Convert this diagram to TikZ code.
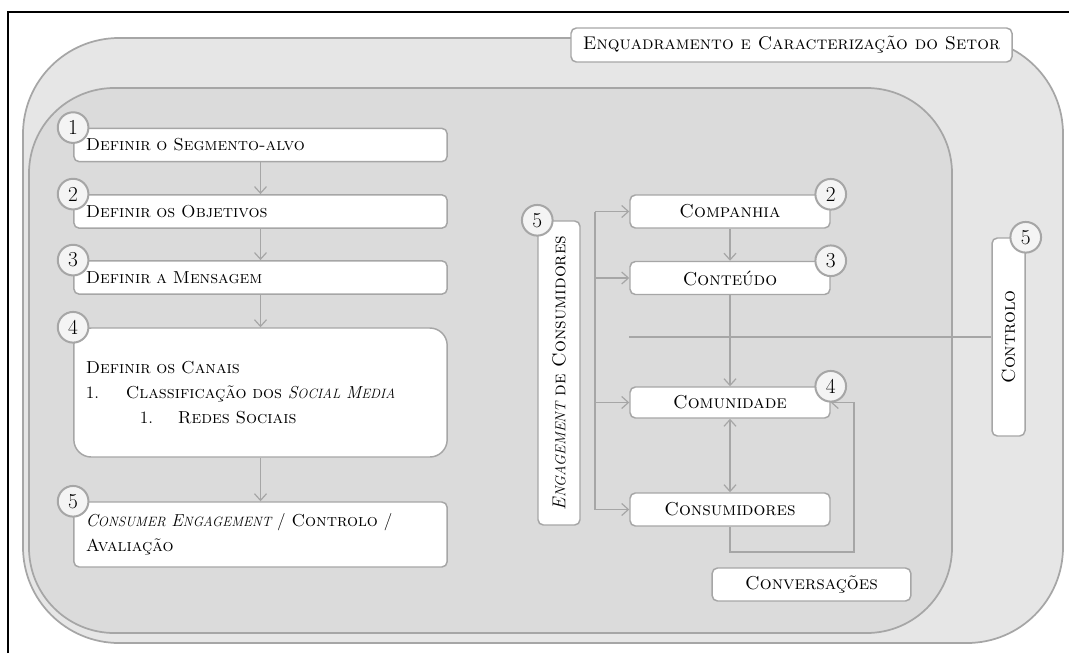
\documentclass[tikz,border=0pt]{standalone}
\usepackage{tikz}
\usetikzlibrary{arrows.meta,calc}
\definecolor{edgegray}{HTML}{A6A6A6}
\definecolor{outergray}{HTML}{E6E6E6}
\definecolor{innergray}{HTML}{DBDBDB}
\definecolor{circlegray}{HTML}{F4F4F4}
\newcommand{\isc}[2]{\textit{#1\scalebox{0.78}{#2}}}
\tikzset{step box/.style={draw=edgegray, line width=1.1pt, fill=white, rectangle, rounded corners=4pt, text width=262pt, inner xsep=9pt, align=left, minimum height=25pt, font=\fontsize{13}{18.5}\selectfont}}
\tikzset{area box/.style={draw=edgegray, line width=1.1pt, fill=white, rectangle, rounded corners=4pt, minimum width=150pt, minimum height=24.75pt, font=\fontsize{14}{16}\selectfont}}
\tikzset{side box/.style={draw=edgegray, line width=1.1pt, fill=white, rectangle, rounded corners=4pt, inner sep=0pt, font=\fontsize{14}{16}\selectfont}}
\tikzset{number circle/.style={draw=edgegray, line width=1.5pt, fill=circlegray, circle, minimum size=23pt, inner sep=0pt, font=\fontsize{16}{18}\selectfont}}
\tikzset{flow/.style={draw=edgegray, line width=0.9pt}}
\tikzset{>={Straight Barb[length=5pt,width=9pt]}}

\begin{document}
\begin{tikzpicture}[x=0.75pt, y=-0.75pt]
\useasboundingbox (0,0) rectangle (1069,653);
\draw[line width=1.5pt] (8,653) -- (8,12) -- (1069,12);
% sector frame
\draw[draw=edgegray, line width=1.3pt, fill=outergray, rounded corners=72pt] (23,38) rectangle (1063,643);
\node[side box, minimum width=330.75pt, minimum height=25.5pt, font=\fontsize{13.8}{16}\selectfont] (setor) at (791.5,45) {\textsc{Enquadramento e Caracterização do Setor}};
% plan frame
\draw[draw=edgegray, line width=1.3pt, fill=innergray, rounded corners=64pt] (29,88) rectangle (952,633);

% plan steps
\node[step box] (seg) at (260.5,145) {\textsc{Definir o Segmento-alvo}};
\node[step box] (obj) at (260.5,211.5) {\textsc{Definir os Objetivos}};
\node[step box] (msg) at (260.5,277.5) {\textsc{Definir a Mensagem}};
\node[step box, minimum height=96.75pt, rounded corners=13pt] (can) at (260.5,392.5) {\textsc{Definir os Canais}\\
\makebox[30pt][l]{1.}\textsc{Classificação dos} \isc{S}{OCIAL} \isc{M}{EDIA}\\
\hspace*{40.5pt}\makebox[28.5pt][l]{1.}\textsc{Redes Sociais}};
\node[step box, minimum height=48.75pt] (ce) at (260.5,534.5) {\isc{C}{ONSUMER} \isc{E}{NGAGEMENT} / \textsc{Controlo} /\\ \textsc{Avaliação}};
\draw[flow,->] (seg) -- (obj);
\draw[flow,->] (obj) -- (msg);
\draw[flow,->] (msg) -- (can);
\draw[flow,->] (can) -- (ce);
\foreach \n/\k in {seg/1, obj/2, msg/3, can/4, ce/5}
  \node[number circle] (num\n) at (\n.north west) {\k};

% engagement
\coordinate (bus) at (595,0);
\coordinate (loop) at (854,552);
\node[area box] (comp) at (730,211.5) {\textsc{Companhia}};
\node[area box] (cont) at (730,278) {\textsc{Conteúdo}};
\node[area box, minimum height=23.25pt] (comu) at (730,402.5) {\textsc{Comunidade}};
\node[area box] (cons) at (730,509.5) {\textsc{Consumidores}};
\node[area box, minimum width=149pt] (conv) at (811.5,584.5) {\textsc{Conversações}};
\node[side box, minimum width=31.5pt, minimum height=228pt] (eng) at (559,373) {\rotatebox{90}{\isc{E}{NGAGEMENT} \textsc{de Consumidores}}};
\node[side box, minimum width=24.75pt, minimum height=148.5pt] (ctl) at (1008.5,337) {\rotatebox{90}{\textsc{Controlo}}};
\draw[flow] (comp.west -| bus) -- (cons.west -| bus);
\foreach \n in {comp,cont,comu,cons}
  \draw[flow,->] (\n.west -| bus) -- (\n.west);
\draw[flow,->] (comp) -- (cont);
\draw[flow,->] (cont) -- (comu);
\draw[flow,<->] (comu) -- (cons);
\draw[flow] (ctl.west) -- (ctl.west -| comu.west);
\draw[flow,->] (cons.south) |- (loop) |- (comu.east);
\node[number circle] (numcomp) at (comp.north east) {2};
\node[number circle] (numcont) at (cont.north east) {3};
\node[number circle] (numcomu) at (comu.north east) {4};
\node[number circle] (numeng) at (eng.north west) {5};
\node[number circle] (numctl) at (ctl.north east) {5};
\end{tikzpicture}
\end{document}
